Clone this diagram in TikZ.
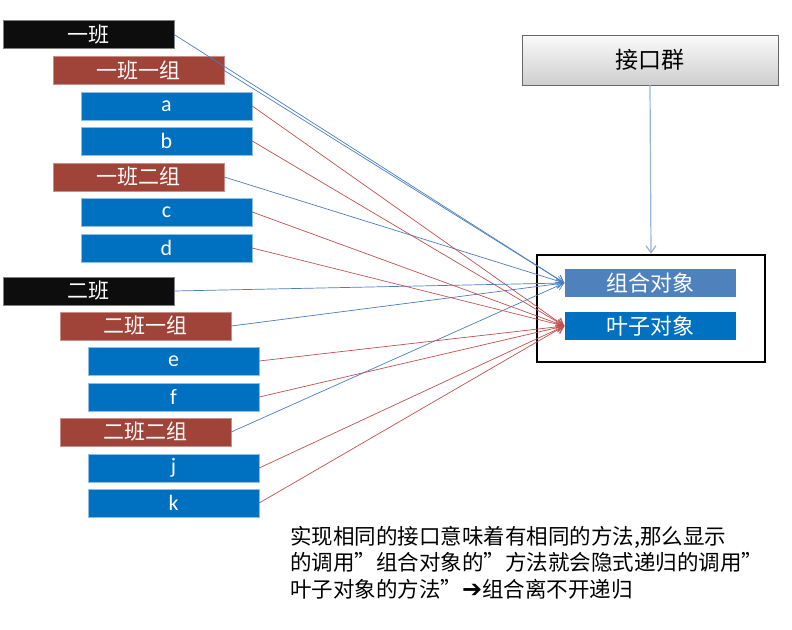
\documentclass[tikz,border=0pt]{standalone}
\usepackage{fontspec}
\setmainfont{Carlito}
\newfontfamily\cjk{Noto Sans CJK SC}
\newfontfamily\symb{DejaVu Sans}
\usetikzlibrary{arrows.meta}

\definecolor{klassfill}{HTML}{0D0D0D}
\definecolor{groupfill}{HTML}{A0443A}
\definecolor{leaffill}{HTML}{0070C0}
\definecolor{compfill}{HTML}{4F81BD}
\definecolor{bluelink}{HTML}{4A7EBB}
\definecolor{redlink}{HTML}{C0504D}
\definecolor{ifacelink}{HTML}{95B3D7}

\tikzset{
  box/.style={minimum width=171pt, minimum height=28pt, inner sep=0pt, text=white,
    font=\cjk\fontsize{21}{22}\selectfont},
  klass/.style={box, fill=klassfill, draw=gray},
  group/.style={box, fill=groupfill, draw=groupfill!60!white},
  leafbox/.style={box, fill=leaffill, draw=leaffill!45!white, font=\fontsize{22}{24}\selectfont},
  tocomp/.style={bluelink, line width=0.7pt, -{Straight Barb[length=7pt,width=9pt]}},
  toleaf/.style={redlink, line width=0.7pt, -{Straight Barb[length=7pt,width=9pt]}}
}

\begin{document}
\begin{tikzpicture}[x=1pt,y=-1pt]
\useasboundingbox (0,0) rectangle (792,629);

% left: classes, groups, students
\node (c1)  [klass]   at (88.5,34.5)  {一班};
\node (g11) [group]   at (138.5,70.5) {一班一组};
\node (a)   [leafbox] at (166.5,106)  {a};
\node (b)   [leafbox] at (166.5,141)  {b};
\node (g12) [group]   at (138.5,177)  {一班二组};
\node (c)   [leafbox] at (166.5,212)  {c};
\node (d)   [leafbox] at (166.5,248)  {d};

\node (c2)  [klass]   at (88.5,291)   {二班};
\node (g21) [group]   at (145.5,326)  {二班一组};
\node (e)   [leafbox] at (173.5,361)  {e};
\node (f)   [leafbox] at (173.5,397)  {f};
\node (g22) [group]   at (145.5,432)  {二班二组};
\node (j)   [leafbox] at (173.5,468)  {j};
\node (k)   [leafbox] at (173.5,503)  {k};

% right: interface and objects
\node (iface) [minimum width=256pt, minimum height=50pt, draw=gray!80!black,
  top color=gray!4, bottom color=gray!38, font=\cjk\fontsize{23}{24}\selectfont]
  at (650,60) {接口群};
\node (holder) [draw, line width=2.5pt, minimum width=228pt, minimum height=107pt]
  at (651,308.5) {};
\node (comp) [box, fill=compfill, font=\cjk\fontsize{22}{24}\selectfont] at (650,283) {组合对象};
\node (leaf) [box, fill=leaffill, font=\cjk\fontsize{22}{24}\selectfont] at (650,326) {叶子对象};

\draw[ifacelink, line width=1.2pt, -{Straight Barb[length=7pt,width=10pt]}] (iface.south) -- (holder.north);

\foreach \n in {c1,g11,g12,c2,g21,g22}
  \draw[tocomp] (\n.east) -- (comp.west);
\foreach \n in {a,b,c,d,e,f,j,k}
  \draw[toleaf] (\n.east) -- (leaf.west);

% note
\node (note) [anchor=north west, align=left, inner sep=0pt,
  font=\cjk\fontsize{21.5}{26.5}\selectfont] at (290,526)
  {实现相同的接口意味着有相同的方法,那么显示\\
   的调用”组合对象的”方法就会隐式递归的调用”\\
   叶子对象的方法”{\symb\bfseries\fontsize{24}{26}\selectfont ➔}组合离不开递归};

\end{tikzpicture}
\end{document}
